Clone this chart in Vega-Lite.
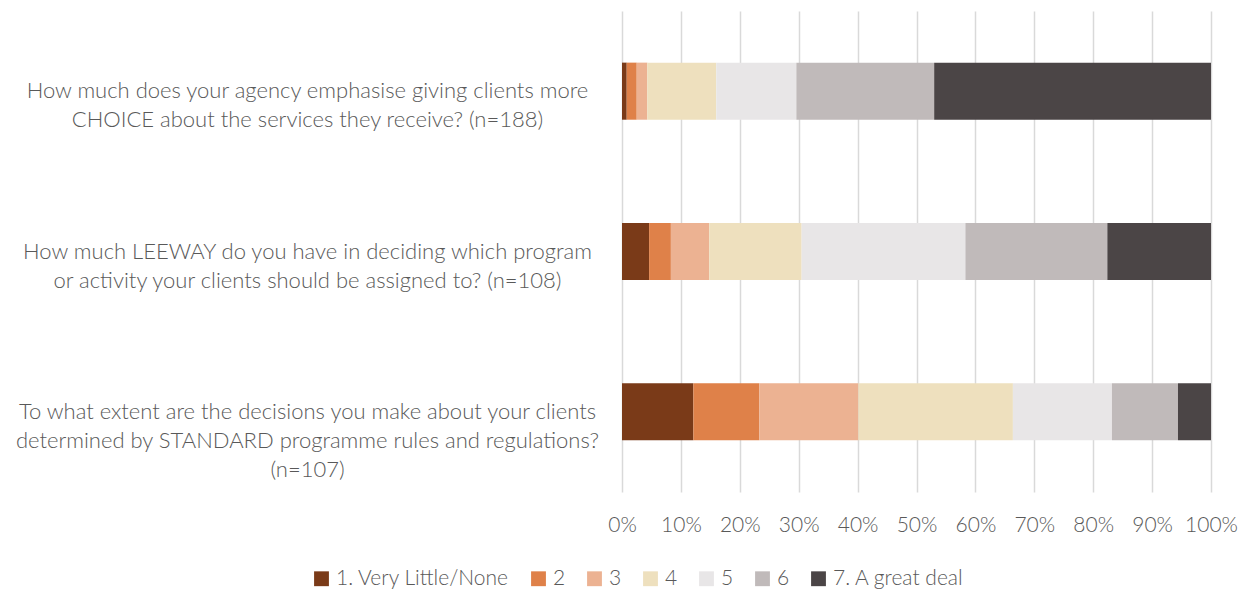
{
  "$schema": "https://vega.github.io/schema/vega-lite/v6.json",
  "autosize": "none",
  "width": 589,
  "height": 481,
  "padding": {"left": 622, "top": 11, "right": 41, "bottom": 101},
  "background": "white",
  "config": {
    "font": "Lato",
    "view": {"stroke": null}
  },
  "data": {
    "values": [
      {"q": "How much does your agency emphasise giving clients more|CHOICE about the services they receive? (n=188)", "k": 1, "rating": "1. Very Little/None", "pct": 0.8},
      {"q": "How much does your agency emphasise giving clients more|CHOICE about the services they receive? (n=188)", "k": 2, "rating": "2", "pct": 1.7},
      {"q": "How much does your agency emphasise giving clients more|CHOICE about the services they receive? (n=188)", "k": 3, "rating": "3", "pct": 1.8},
      {"q": "How much does your agency emphasise giving clients more|CHOICE about the services they receive? (n=188)", "k": 4, "rating": "4", "pct": 11.7},
      {"q": "How much does your agency emphasise giving clients more|CHOICE about the services they receive? (n=188)", "k": 5, "rating": "5", "pct": 13.6},
      {"q": "How much does your agency emphasise giving clients more|CHOICE about the services they receive? (n=188)", "k": 6, "rating": "6", "pct": 23.4},
      {"q": "How much does your agency emphasise giving clients more|CHOICE about the services they receive? (n=188)", "k": 7, "rating": "7. A great deal", "pct": 47.0},
      {"q": "How much LEEWAY do you have in deciding which program|or activity your clients should be assigned to? (n=108)", "k": 1, "rating": "1. Very Little/None", "pct": 4.6},
      {"q": "How much LEEWAY do you have in deciding which program|or activity your clients should be assigned to? (n=108)", "k": 2, "rating": "2", "pct": 3.7},
      {"q": "How much LEEWAY do you have in deciding which program|or activity your clients should be assigned to? (n=108)", "k": 3, "rating": "3", "pct": 6.5},
      {"q": "How much LEEWAY do you have in deciding which program|or activity your clients should be assigned to? (n=108)", "k": 4, "rating": "4", "pct": 15.7},
      {"q": "How much LEEWAY do you have in deciding which program|or activity your clients should be assigned to? (n=108)", "k": 5, "rating": "5", "pct": 27.8},
      {"q": "How much LEEWAY do you have in deciding which program|or activity your clients should be assigned to? (n=108)", "k": 6, "rating": "6", "pct": 24.1},
      {"q": "How much LEEWAY do you have in deciding which program|or activity your clients should be assigned to? (n=108)", "k": 7, "rating": "7. A great deal", "pct": 17.6},
      {"q": "To what extent are the decisions you make about your clients|determined by STANDARD programme rules and regulations?|(n=107)", "k": 1, "rating": "1. Very Little/None", "pct": 12.1},
      {"q": "To what extent are the decisions you make about your clients|determined by STANDARD programme rules and regulations?|(n=107)", "k": 2, "rating": "2", "pct": 11.2},
      {"q": "To what extent are the decisions you make about your clients|determined by STANDARD programme rules and regulations?|(n=107)", "k": 3, "rating": "3", "pct": 16.8},
      {"q": "To what extent are the decisions you make about your clients|determined by STANDARD programme rules and regulations?|(n=107)", "k": 4, "rating": "4", "pct": 26.2},
      {"q": "To what extent are the decisions you make about your clients|determined by STANDARD programme rules and regulations?|(n=107)", "k": 5, "rating": "5", "pct": 16.8},
      {"q": "To what extent are the decisions you make about your clients|determined by STANDARD programme rules and regulations?|(n=107)", "k": 6, "rating": "6", "pct": 11.2},
      {"q": "To what extent are the decisions you make about your clients|determined by STANDARD programme rules and regulations?|(n=107)", "k": 7, "rating": "7. A great deal", "pct": 5.6}
    ]
  },
  "mark": {"type": "bar"},
  "encoding": {
    "y": {
      "field": "q",
      "type": "nominal",
      "sort": null,
      "scale": {"paddingInner": 0.644, "paddingOuter": 0.322},
      "axis": {
        "title": null,
        "domain": false,
        "ticks": false,
        "labelExpr": "split(datum.label, '|')",
        "labelAlign": "center",
        "labelBaseline": "middle",
        "labelPadding": 315,
        "labelLimit": 700,
        "labelFontSize": 22,
        "labelFontWeight": 300,
        "labelLineHeight": 29,
        "labelColor": "#595959"
      }
    },
    "x": {
      "field": "pct",
      "type": "quantitative",
      "stack": "normalize",
      "scale": {"domain": [0, 1], "nice": false},
      "axis": {
        "title": null,
        "format": ".0%",
        "values": [0, 0.1, 0.2, 0.3, 0.4, 0.5, 0.6, 0.7, 0.8, 0.9, 1],
        "domain": false,
        "ticks": false,
        "grid": true,
        "gridColor": "#d9d9d9",
        "gridWidth": 1.5,
        "labelFlush": false,
        "labelOverlap": false,
        "labelPadding": 22,
        "labelFontSize": 21,
        "labelFontWeight": 300,
        "labelColor": "#595959"
      }
    },
    "order": {"field": "k", "type": "quantitative"},
    "color": {
      "field": "rating",
      "type": "nominal",
      "sort": ["1. Very Little/None", "2", "3", "4", "5", "6", "7. A great deal"],
      "scale": {
        "domain": ["1. Very Little/None", "2", "3", "4", "5", "6", "7. A great deal"],
        "range": ["#7a3a18", "#df8149", "#ecb292", "#eee0be", "#e8e6e7", "#c0baba", "#4b4546"]
      },
      "legend": {
        "title": null,
        "orient": "none",
        "direction": "horizontal",
        "legendX": -311,
        "legendY": 557,
        "symbolType": "square",
        "symbolSize": 220,
        "symbolStrokeWidth": 0,
        "labelFontSize": 21,
        "labelFontWeight": 300,
        "labelLimit": 400,
        "labelColor": "#595959",
        "columnPadding": 18,
        "labelOffset": 4
      }
    }
  }
}
